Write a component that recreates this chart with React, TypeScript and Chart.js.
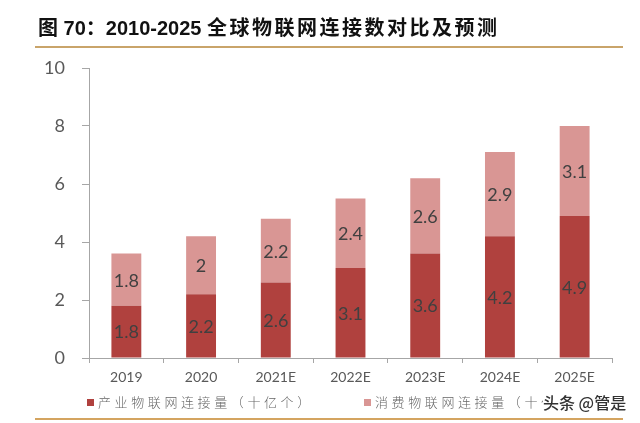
import React, { useEffect, useRef } from "react";
import { Chart, registerables } from "chart.js";

Chart.register(...registerables);

const categories = ["2019", "2020", "2021E", "2022E", "2023E", "2024E", "2025E"];
const industrialValues = [1.8, 2.2, 2.6, 3.1, 3.6, 4.2, 4.9];
const consumerValues = [1.8, 2, 2.2, 2.4, 2.6, 2.9, 3.1];
const seriesNames = ["产业物联网连接量（十亿个）", "消费物联网连接量（十亿个）"];
const titleText = ["图 70", "：", "2010-2025 ", "全球物联网连接数对比及预测"];
const watermark = "头条 @管是";

const DARK = "#B0413E";
const LIGHT = "#D99694";
const AXIS = "#A6A6A6";
const TEXT = "#595959";

const valueLabels = {
  id: "valueLabels",
  afterDatasetsDraw(chart: any) {
    const ctx = chart.ctx;
    ctx.save();
    ctx.font = '18px "Lato", "Noto Sans", sans-serif';
    ctx.fillStyle = "#404040";
    ctx.textAlign = "center";
    ctx.textBaseline = "middle";
    chart.data.datasets.forEach((ds: any, di: number) => {
      const meta = chart.getDatasetMeta(di);
      meta.data.forEach((bar: any, i: number) => {
        const p = bar.getProps(["x", "y", "base"], true);
        ctx.fillText(String(ds.data[i]), p.x, (p.y + p.base) / 2 + 1);
      });
    });
    ctx.restore();
  },
};

export default function App() {
  const ref = useRef<HTMLCanvasElement>(null);
  useEffect(() => {
    if (!ref.current) return;
    const chart = new Chart(ref.current, {
      type: "bar",
      data: {
        labels: categories,
        datasets: [
          { label: seriesNames[0], data: industrialValues, backgroundColor: DARK, barPercentage: 0.4, categoryPercentage: 1 },
          { label: seriesNames[1], data: consumerValues, backgroundColor: LIGHT, barPercentage: 0.4, categoryPercentage: 1 },
        ],
      },
      options: {
        animation: false,
        responsive: false,
        devicePixelRatio: 1,
        layout: { padding: { top: 68, right: 28, left: 0, bottom: 0 } },
        plugins: { legend: { display: false }, tooltip: { enabled: false }, title: { display: false } },
        scales: {
          x: {
            stacked: true,
            afterFit: (s: any) => { s.height = 65; },
            grid: { display: true, drawOnChartArea: false, drawTicks: true, tickLength: 5, color: AXIS, offset: true },
            border: { display: true, color: AXIS, width: 1 },
            ticks: { color: TEXT, font: { family: '"Lato", "Noto Sans", sans-serif', size: 14 }, padding: 6, maxRotation: 0 },
          },
          y: {
            stacked: true,
            min: 0,
            max: 10,
            afterFit: (s: any) => { s.width = 89; },
            grid: { display: true, drawOnChartArea: false, drawTicks: true, tickLength: 7, color: AXIS },
            border: { display: true, color: AXIS, width: 1 },
            ticks: { stepSize: 2, color: TEXT, font: { family: '"Lato", "Noto Sans", sans-serif', size: 18 }, padding: 17 },
          },
        },
      },
      plugins: [valueLabels],
    });
    return () => chart.destroy();
  }, []);

  const legendText: React.CSSProperties = {
    position: "absolute",
    top: 393,
    fontFamily: '"Noto Sans CJK SC", sans-serif',
    fontSize: 13,
    fontWeight: 300,
    letterSpacing: "3.6px",
    color: "#666",
    whiteSpace: "nowrap",
    lineHeight: "18px",
  };

  return (
    <div style={{ position: "absolute", left: 0, top: 0, width: 640, height: 423, background: "#fff", overflow: "hidden" }}>
      <canvas ref={ref} width={640} height={423} style={{ position: "absolute", left: 0, top: 0, width: 640, height: 423 }} />
      <div style={{ position: "absolute", left: 38, top: 14, fontFamily: '"Liberation Sans", "Noto Sans CJK SC", sans-serif', fontWeight: 700, fontSize: 20, lineHeight: "26px", color: "#111", whiteSpace: "nowrap" }}>
        <span>{titleText[0]}</span>
        <span style={{ fontFamily: '"Noto Sans CJK SC", sans-serif' }}>{titleText[1]}</span>
        <span>{titleText[2]}</span>
        <span style={{ letterSpacing: "2.5px" }}>{titleText[3]}</span>
      </div>
      <div style={{ position: "absolute", left: 35, top: 46, width: 588, height: 2, background: "#C9A46A" }} />
      <div style={{ position: "absolute", left: 87, top: 399, width: 7, height: 7, background: DARK }} />
      <div style={{ ...legendText, left: 98 }}>{seriesNames[0]}</div>
      <div style={{ position: "absolute", left: 364, top: 399, width: 7, height: 7, background: LIGHT }} />
      <div style={{ ...legendText, left: 375 }}>{seriesNames[1]}</div>
      <div style={{ position: "absolute", left: 543, top: 391, fontFamily: '"Noto Sans CJK SC", sans-serif', fontSize: 16, fontWeight: 500, color: "#333", background: "#fff", lineHeight: "22px", whiteSpace: "nowrap", textShadow: "0 0 2px #fff" }}>{watermark}</div>
      <div style={{ position: "absolute", left: 35, top: 418, width: 588, height: 2, background: "#D4A460" }} />
    </div>
  );
}
